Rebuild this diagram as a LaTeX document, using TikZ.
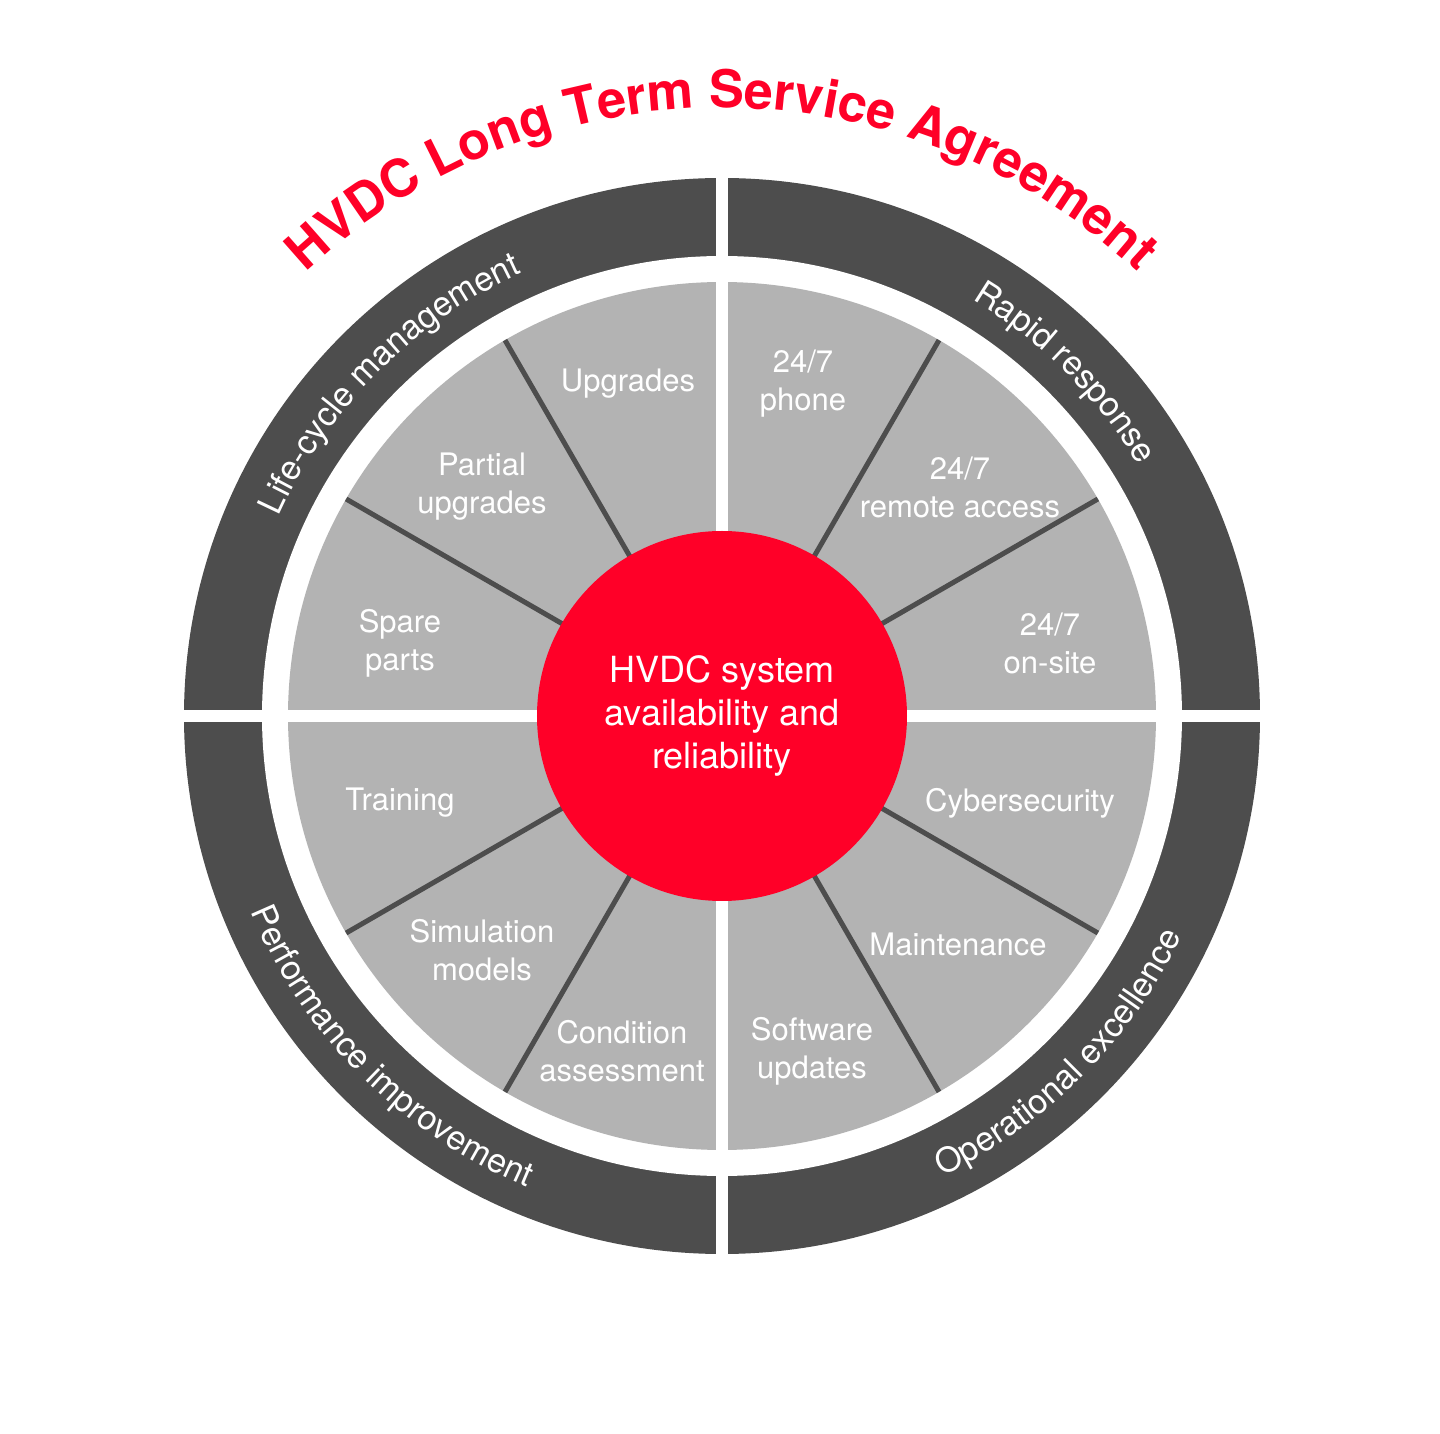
\documentclass[tikz,border=0pt]{standalone}
\usepackage{fontspec}
\setmainfont{TeX Gyre Heros}
\usetikzlibrary{decorations.text}
\definecolor{dk}{HTML}{4D4D4D}
\definecolor{lg}{HTML}{B3B3B3}
\definecolor{rd}{HTML}{FF0028}
\begin{document}
\begin{tikzpicture}[x=1pt,y=1pt,
  lbl/.style={text=white,align=center,font=\fontsize{31}{38}\selectfont},
  divider/.style={dk,line width=5pt}]
\useasboundingbox[fill=white] (-722,-718) rectangle (718,716);
\fill[dk] (0,0) circle (538);
\fill[white] (0,0) circle (460);
\fill[lg] (0,0) circle (434);
\foreach \a in {30,60,120,150,210,240,300,330}
  \draw[divider] (\a:180) -- (\a:434);
\fill[white] (-545,-6) rectangle (545,6);
\fill[white] (-6,-545) rectangle (6,545);
\node[circle,fill=rd,minimum size=370pt,inner sep=0pt,text=white,align=center,
  font=\fontsize{36}{43}\selectfont] (c) at (0,0) {HVDC system\\availability and\\reliability};
% sector labels
\node[lbl] (upg) at (-94,332) {Upgrades};
\node[lbl] (ph) at (81,332) {24/7\\phone};
\node[lbl] (pu) at (-240,229) {Partial\\upgrades};
\node[lbl] (ra) at (238,229) {24/7\\remote access};
\node[lbl] (sp) at (-322,73) {Spare\\parts};
\node[lbl] (os) at (328,73) {24/7\\on-site};
\node[lbl] (tr) at (-322,-87) {Training};
\node[lbl] (cy) at (298,-87) {Cybersecurity};
\node[lbl] (sm) at (-240,-234) {Simulation\\models};
\node[lbl] (mt) at (236,-228) {Maintenance};
\node[lbl] (ca) at (-100,-335) {Condition\\assessment};
\node[lbl] (su) at (90,-335) {Software\\updates};
% ring labels
\path[decorate,decoration={text along path,text align=center,
  text={|\fontsize{34}{34}\selectfont\color{white}|Life-cycle management}}]
  (178:486) arc[start angle=178,end angle=92,radius=486];
\path[decorate,decoration={text along path,text align=center,
  text={|\fontsize{34}{34}\selectfont\color{white}|Rapid response}}]
  (88:486) arc[start angle=88,end angle=2,radius=486];
\path[decorate,decoration={text along path,text align=center,
  text={|\fontsize{34}{34}\selectfont\color{white}|Performance improvement}}]
  (182:510) arc[start angle=182,end angle=268,radius=510];
\path[decorate,decoration={text along path,text align=center,
  text={|\fontsize{34}{34}\selectfont\color{white}|Operational excellence}}]
  (272:510) arc[start angle=272,end angle=358,radius=510];
% title
\path[decorate,decoration={text along path,text align=center,
  text={|\fontsize{52}{52}\selectfont\bfseries\color{rd}|HVDC Long Term Service Agreement}}]
  (160:608) arc[start angle=160,end angle=20,radius=608];
\end{tikzpicture}
\end{document}
